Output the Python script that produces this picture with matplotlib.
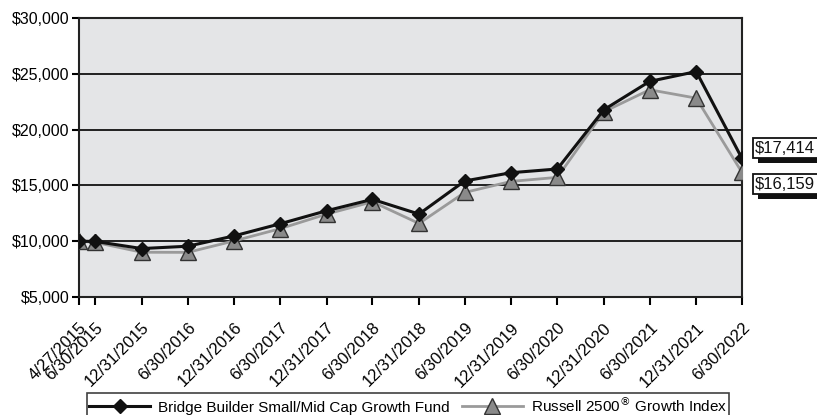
import matplotlib.pyplot as plt
import matplotlib.dates as mdates
import matplotlib.transforms as mtransforms
from matplotlib.patches import Rectangle
import numpy as np
from datetime import date

plt.rcParams['font.family'] = ['Liberation Sans', 'DejaVu Sans']

dates = [date(2015, 4, 27), date(2015, 6, 30), date(2015, 12, 31), date(2016, 6, 30),
         date(2016, 12, 31), date(2017, 6, 30), date(2017, 12, 31), date(2018, 6, 30),
         date(2018, 12, 31), date(2019, 6, 30), date(2019, 12, 31), date(2020, 6, 30),
         date(2020, 12, 31), date(2021, 6, 30), date(2021, 12, 31), date(2022, 6, 30)]
tick_labels = ["4/27/2015", "6/30/2015", "12/31/2015", "6/30/2016", "12/31/2016",
               "6/30/2017", "12/31/2017", "6/30/2018", "12/31/2018", "6/30/2019",
               "12/31/2019", "6/30/2020", "12/31/2020", "6/30/2021", "12/31/2021",
               "6/30/2022"]

fund = [10000, 9980, 9340, 9550, 10480, 11560, 12730, 13750, 12430, 15400,
        16140, 16470, 21780, 24320, 25200, 17414]
index = [10000, 9900, 9010, 9000, 10030, 11120, 12430, 13530, 11590, 14370,
         15360, 15720, 21600, 23570, 22820, 16159]

fund_name = "Bridge Builder Small/Mid Cap Growth Fund"
index_name = "Russell 2500$^{\u00ae}$ Growth Index"

x = mdates.date2num(dates)

fig = plt.figure(figsize=(8.17, 4.15), dpi=100)
ax = fig.add_axes([79 / 817, 1 - 297 / 415, 663 / 817, 279 / 415])
ax.set_facecolor("#e4e5e7")

ax.plot(x, index, color="#9a9a9a", lw=2, marker="^", ms=11,
        mfc="#8a8a8a", mec="#333333", mew=1, label=index_name, zorder=3)
ax.plot(x, fund, color="#111111", lw=2.2, marker="D", ms=7.5,
        mfc="#111111", mec="#111111", label=fund_name, zorder=4)

ax.set_xlim(x[0], x[-1])
ax.set_ylim(5000, 30000)
yt = np.arange(5000, 30001, 5000)
ax.set_yticks(yt)
ax.set_yticklabels([f"${v:,.0f}" for v in yt])
ax.set_xticks(x)
ax.set_xticklabels(tick_labels, rotation=45, ha="right", va="top",
                   rotation_mode="anchor")
shift = mtransforms.ScaledTranslation(0.04, 0, fig.dpi_scale_trans)
for lbl in ax.get_xticklabels():
    lbl.set_transform(lbl.get_transform() + shift)
ax.tick_params(axis="x", length=6, width=1.5, pad=10.5, labelsize=12)
ax.tick_params(axis="y", length=5, width=1.5, pad=2, labelsize=11.5)
ax.grid(axis="y", color="#111111", lw=1.3)
ax.set_axisbelow(True)
for s in ax.spines.values():
    s.set_linewidth(1.5)
    s.set_color("#222222")

# end-value callouts
callouts = []
for val, dy in [(17414, 10), (16159, -12)]:
    ann = ax.annotate(f"${val:,}", xy=(x[-1], val), xycoords="data",
                      xytext=(13, dy), textcoords="offset pixels",
                      ha="left", va="center", fontsize=12, color="#111111",
                      bbox=dict(boxstyle="square,pad=0.15", fc="white",
                                ec="#111111", lw=1.3),
                      annotation_clip=False, zorder=6)
    callouts.append(ann)

fig.canvas.draw()
# drop shadow under each callout box
for ann in callouts:
    bb = ann.get_bbox_patch().get_window_extent()
    shadow = Rectangle((bb.x0 + 5, bb.y0 - 5), bb.width, bb.height,
                       transform=mtransforms.IdentityTransform(),
                       fc="#111111", ec="none", zorder=5, clip_on=False)
    ax.add_artist(shadow)

handles, labels = ax.get_legend_handles_labels()
leg = fig.legend(handles[::-1], labels[::-1], ncol=2, loc="upper left",
                 bbox_to_anchor=(87 / 817, 1 - 393 / 415), borderaxespad=0,
                 frameon=True, fancybox=False, edgecolor="#111111", fontsize=11,
                 handlelength=4, handletextpad=0.5, columnspacing=0.8,
                 borderpad=0.15)
leg.get_frame().set_linewidth(1.2)

fig.savefig("out.png", dpi=100)
